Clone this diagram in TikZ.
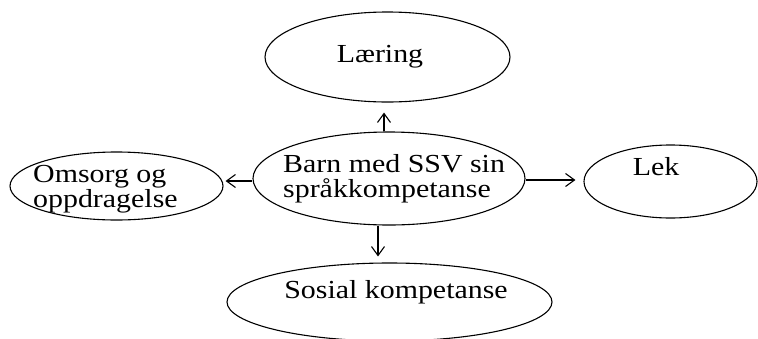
\documentclass[tikz,border=0pt]{standalone}
\usepackage{fontspec}
\setmainfont{Liberation Serif}[FakeStretch=1.15]
\usetikzlibrary{shapes.geometric,arrows.meta}

\begin{document}
\begin{tikzpicture}[
    x=1pt, y=-1pt,
    bubble/.style={
        ellipse,
        draw,
        line width=1.1pt,
        inner sep=0pt,
    },
    txt/.style={
        align=left,
        inner sep=0pt,
        font=\fontsize{26}{25}\selectfont,
    },
    arr/.style={-{Straight Barb[length=9pt,width=13pt]}, line width=1.1pt},
]

\useasboundingbox (0,0) rectangle (758,338);

\node[bubble, minimum width=245pt, minimum height=90pt] (laering) at (387.5,57) {};
\node[bubble, minimum width=272pt, minimum height=93pt] (barn) at (389,178.5) {};
\node[bubble, minimum width=213pt, minimum height=68pt] (omsorg) at (116.5,186) {};
\node[bubble, minimum width=173pt, minimum height=73pt] (lek) at (670.5,181.5) {};
\node[bubble, minimum width=325pt, minimum height=78pt] (sosial) at (389.5,302) {};

\node[txt, anchor=base] (laering-txt) at (380,62) {Læring};
\node[txt, anchor=base] (lek-txt) at (656,175) {Lek};
\node[txt, anchor=base west] (barn-txt) at (283,197) {Barn med SSV sin\\språkkompetanse};
\node[txt, anchor=base west, font=\fontsize{26}{22}\selectfont] (omsorg-txt) at (33,207) {Omsorg og\\oppdragelse};
\node[txt, anchor=base] (sosial-txt) at (396,298) {Sosial kompetanse};

\draw[arr, shorten >=10pt] ([xshift=-5pt]barn.north) -- ([xshift=-5pt]barn.north |- laering.south);
\draw[arr, shorten >=6pt] ([xshift=-11pt]barn.south) -- ([xshift=-11pt]barn.south |- sosial.north);
\draw[arr, shorten >=2pt] ([yshift=-2.5pt]barn.west) -- ([yshift=-2.5pt]barn.west -| omsorg.east);
\draw[arr, shorten >=8pt] ([yshift=-1.5pt]barn.east) -- ([yshift=-1.5pt]barn.east -| lek.west);

\end{tikzpicture}
\end{document}
